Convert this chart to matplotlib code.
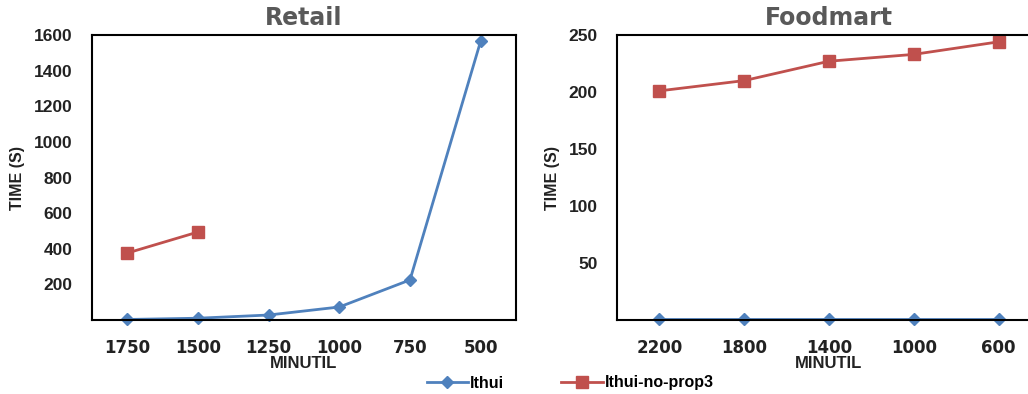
import matplotlib
matplotlib.use("Agg")
import matplotlib.pyplot as plt

retail_minutil = ["1750", "1500", "1250", "1000", "750", "500"]
retail_lthui = [3, 10, 28, 73, 225, 1566]
retail_noprop3 = [376, 494]

food_minutil = ["2200", "1800", "1400", "1000", "600"]
food_lthui = [1, 1, 1, 1, 1]
food_noprop3 = [201, 210, 227, 233, 244]

BLUE = "#4F81BD"
RED = "#C0504D"

fig = plt.figure(figsize=(10.28, 3.94), dpi=100)
ax1 = fig.add_axes([92 / 1028, 74 / 394, 424 / 1028, 285 / 394])
ax2 = fig.add_axes([617 / 1028, 74 / 394, 424 / 1028, 285 / 394])


def style(ax, title, cats, ymax, yticks):
    ax.set_xlim(-0.5, len(cats) - 0.5)
    ax.set_ylim(0, ymax)
    ax.set_xticks(range(len(cats)))
    ax.set_xticklabels(cats, fontfamily="DejaVu Sans", fontweight="semibold", fontsize=12, color="#222222")
    ax.set_yticks(yticks)
    ax.set_yticklabels([str(t) for t in yticks], fontfamily="Liberation Sans", fontweight="bold",
                       fontsize=12.5, color="#222222")
    ax.tick_params(length=0, pad=14)
    for s in ax.spines.values():
        s.set_linewidth(1.5)
        s.set_color("black")
    ax.set_title(title, fontfamily="DejaVu Sans", fontweight="bold", fontsize=17, color="#595959", pad=7)
    ax.set_xlabel("MINUTIL", fontfamily="Liberation Sans", fontweight="bold", fontsize=12, labelpad=-1, color="#222222")
    ax.set_ylabel("TIME (S)", fontfamily="Liberation Sans", fontweight="bold", fontsize=11.5, labelpad=6, color="#222222")


style(ax1, "Retail", retail_minutil, 1600, [200, 400, 600, 800, 1000, 1200, 1400, 1600])
style(ax2, "Foodmart", food_minutil, 250, [50, 100, 150, 200, 250])

ax1.plot(range(len(retail_lthui)), retail_lthui, color=BLUE, lw=2.0, marker="D", ms=6, label="lthui", clip_on=False)
ax1.plot(range(len(retail_noprop3)), retail_noprop3, color=RED, lw=2.0, marker="s", ms=8, label="lthui-no-prop3", clip_on=False)
ax2.plot(range(len(food_lthui)), food_lthui, color=BLUE, lw=2.0, marker="D", ms=6, clip_on=False)
ax2.plot(range(len(food_noprop3)), food_noprop3, color=RED, lw=2.0, marker="s", ms=8, clip_on=False)

fig.legend(loc="center", bbox_to_anchor=(570 / 1028, 11 / 394), ncol=2, frameon=False,
           handlelength=2.6, columnspacing=3.6, handletextpad=0.1,
           prop={"family": "Liberation Sans", "weight": "bold", "size": 11.5})

fig.savefig("out.png", dpi=100)
